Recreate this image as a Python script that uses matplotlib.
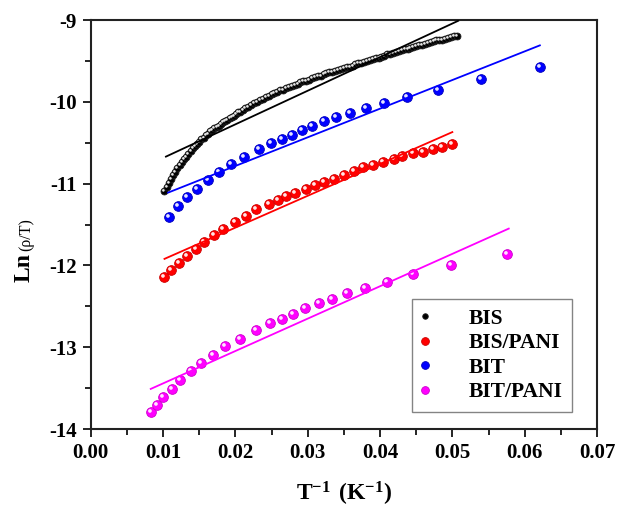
import numpy as np
import matplotlib.pyplot as plt
from matplotlib.markers import MarkerStyle
from matplotlib.transforms import Affine2D
from matplotlib.legend_handler import HandlerTuple

plt.rcParams['font.family'] = 'Liberation Serif'
plt.rcParams['font.weight'] = 'bold'
plt.rcParams['mathtext.fontset'] = 'custom'
plt.rcParams['mathtext.rm'] = 'Liberation Serif'
plt.rcParams['mathtext.bf'] = 'Liberation Serif:bold'

# BIS (dense measurement)
bis_x = [0.0102, 0.0105, 0.0108, 0.0111, 0.0114, 0.0117, 0.0120, 0.0123, 0.0126, 0.0129,
         0.0132, 0.0135, 0.0138, 0.0141, 0.0144, 0.0147, 0.0150, 0.0153, 0.0156, 0.0159,
         0.0162, 0.0165, 0.0168, 0.0171, 0.0174, 0.0177, 0.0180, 0.0183, 0.0186, 0.0189,
         0.0192, 0.0195, 0.0198, 0.0201, 0.0204, 0.0207, 0.0210, 0.0214, 0.0218, 0.0222,
         0.0226, 0.0230, 0.0234, 0.0238, 0.0242, 0.0246, 0.0250, 0.0254, 0.0258, 0.0262,
         0.0266, 0.0270, 0.0274, 0.0278, 0.0282, 0.0286, 0.0290, 0.0294, 0.0298, 0.0302,
         0.0306, 0.0310, 0.0314, 0.0318, 0.0322, 0.0326, 0.0330, 0.0334, 0.0338, 0.0342,
         0.0346, 0.0350, 0.0354, 0.0358, 0.0362, 0.0366, 0.0370, 0.0374, 0.0378, 0.0382,
         0.0386, 0.0390, 0.0394, 0.0398, 0.0402, 0.0406, 0.0410, 0.0414, 0.0418, 0.0422,
         0.0426, 0.0430, 0.0434, 0.0438, 0.0442, 0.0446, 0.0450, 0.0454, 0.0458, 0.0462,
         0.0466, 0.0470, 0.0474, 0.0478, 0.0482, 0.0486, 0.0490, 0.0494, 0.0498, 0.0502,
         0.0506]
bis_y = [-11.09, -11.04, -10.99, -10.94, -10.90, -10.86, -10.81, -10.77, -10.74, -10.70,
         -10.67, -10.64, -10.60, -10.57, -10.54, -10.51, -10.49, -10.46, -10.44, -10.41,
         -10.39, -10.36, -10.34, -10.32, -10.31, -10.29, -10.27, -10.25, -10.23, -10.22,
         -10.20, -10.18, -10.17, -10.15, -10.13, -10.12, -10.10, -10.08, -10.06, -10.04,
         -10.02, -10.00, -9.98, -9.96, -9.94, -9.93, -9.91, -9.89, -9.88, -9.86,
         -9.85, -9.83, -9.82, -9.81, -9.79, -9.78, -9.76, -9.75, -9.74, -9.73,
         -9.71, -9.70, -9.69, -9.68, -9.66, -9.65, -9.64, -9.63, -9.62, -9.61,
         -9.60, -9.59, -9.58, -9.57, -9.56, -9.54, -9.53, -9.52, -9.51, -9.50,
         -9.49, -9.48, -9.47, -9.46, -9.45, -9.44, -9.42, -9.41, -9.40, -9.39,
         -9.38, -9.37, -9.36, -9.35, -9.34, -9.33, -9.32, -9.31, -9.30, -9.29,
         -9.28, -9.27, -9.26, -9.25, -9.25, -9.24, -9.23, -9.22, -9.21, -9.20,
         -9.19]
bis_fit_x = [0.0104, 0.0508]
bis_fit_y = [-10.67, -9.01]

# BIS/PANI
bispani_x = [0.0102, 0.0111, 0.0122, 0.0133, 0.0145, 0.0157, 0.0170, 0.0183, 0.0199, 0.0215,
             0.0229, 0.0246, 0.0259, 0.0270, 0.0283, 0.0297, 0.0310, 0.0323, 0.0336, 0.0350,
             0.0364, 0.0377, 0.0390, 0.0404, 0.0419, 0.0431, 0.0445, 0.0459, 0.0473, 0.0486,
             0.0500]
bispani_y = [-12.14, -12.05, -11.97, -11.88, -11.80, -11.71, -11.63, -11.55, -11.47, -11.40,
             -11.31, -11.25, -11.20, -11.15, -11.11, -11.06, -11.02, -10.98, -10.94, -10.90,
             -10.85, -10.80, -10.77, -10.73, -10.70, -10.66, -10.63, -10.61, -10.58, -10.55,
             -10.51]
bispani_fit_x = [0.0102, 0.0500]
bispani_fit_y = [-11.92, -10.37]

# BIT
bit_x = [0.0108, 0.0121, 0.0133, 0.0147, 0.0162, 0.0177, 0.0194, 0.0212, 0.0233, 0.0249,
         0.0264, 0.0278, 0.0292, 0.0306, 0.0322, 0.0339, 0.0358, 0.0380, 0.0405, 0.0437,
         0.0480, 0.0540, 0.0621]
bit_y = [-11.41, -11.27, -11.16, -11.06, -10.95, -10.86, -10.76, -10.67, -10.58, -10.50,
         -10.45, -10.40, -10.35, -10.30, -10.24, -10.19, -10.14, -10.07, -10.01, -9.94,
         -9.85, -9.72, -9.58]
bit_fit_x = [0.0107, 0.0621]
bit_fit_y = [-11.11, -9.31]

# BIT/PANI
bitpani_x = [0.0083, 0.0092, 0.0100, 0.0112, 0.0124, 0.0138, 0.0152, 0.0169, 0.0186, 0.0206,
             0.0228, 0.0248, 0.0264, 0.0280, 0.0296, 0.0315, 0.0333, 0.0355, 0.0379, 0.0409,
             0.0446, 0.0498, 0.0575]
bitpani_y = [-13.79, -13.71, -13.61, -13.51, -13.40, -13.29, -13.19, -13.09, -12.99, -12.90,
             -12.79, -12.71, -12.65, -12.59, -12.52, -12.46, -12.41, -12.34, -12.28, -12.20,
             -12.11, -12.00, -11.86]
bitpani_fit_x = [0.0083, 0.0578]
bitpani_fit_y = [-13.51, -11.55]

fig = plt.figure(figsize=(6.2, 5.12), dpi=100)
ax = fig.add_axes([0.1463, 0.1621, 0.8166, 0.7988])

# small white spot up-left to make the markers look like shaded balls
shine = MarkerStyle('o', transform=Affine2D().scale(0.38).translate(-0.16, 0.16))


def balls(x, y, color, edge, size):
    body, = ax.plot(x, y, ls='none', marker='o', ms=size, mfc=color,
                    mec=edge, mew=0.6, zorder=3)
    spot, = ax.plot(x, y, ls='none', marker=shine, ms=size, mfc='white',
                    mec='none', alpha=0.9, zorder=4)
    return (body, spot)


h_bis = balls(bis_x, bis_y, 'black', '#222222', 5.0)
h_bispani = balls(bispani_x, bispani_y, '#ff0000', '#cc0000', 7.0)
h_bit = balls(bit_x, bit_y, '#0000ff', '#0000bb', 7.0)
h_bitpani = balls(bitpani_x, bitpani_y, '#ff00ff', '#cc00cc', 7.0)

ax.plot(bis_fit_x, bis_fit_y, color='black', lw=1.3, zorder=5)
ax.plot(bispani_fit_x, bispani_fit_y, color='#ff0000', lw=1.3, zorder=5)
ax.plot(bit_fit_x, bit_fit_y, color='#0000ff', lw=1.3, zorder=5)
ax.plot(bitpani_fit_x, bitpani_fit_y, color='#ff00ff', lw=1.3, zorder=5)

ax.set_xlim(0, 0.07)
ax.set_ylim(-14, -9)
ax.set_xticks(np.arange(0, 0.0701, 0.01))
ax.set_xticklabels(['%.2f' % v for v in np.arange(0, 0.0701, 0.01)])
ax.set_xticks(np.arange(0.005, 0.07, 0.01), minor=True)
ax.set_yticks(np.arange(-14, -8.9, 1))
ax.set_yticklabels(['%d' % v for v in np.arange(-14, -8.9, 1)])
ax.set_yticks(np.arange(-13.5, -9, 1), minor=True)
ax.tick_params(which='major', direction='out', length=6, width=1.2,
               labelsize=15, pad=4, top=False, right=False)
ax.tick_params(which='minor', direction='out', length=4, width=1.2,
               top=False, right=False)
for sp in ax.spines.values():
    sp.set_linewidth(1.5)
    sp.set_color('#222222')

ax.set_xlabel(r'$\mathbf{T^{-1}\ (K^{-1})}$', fontsize=17, labelpad=12)
fig.text(0.039, 0.450, 'Ln', rotation=90, ha='center', va='bottom',
         fontsize=17, fontweight='bold')
fig.text(0.042, 0.510, '(ρ/T)', rotation=90, ha='center', va='bottom',
         fontsize=11.5, fontweight='normal')

leg = ax.legend([h_bis, h_bispani, h_bit, h_bitpani],
                ['BIS', 'BIS/PANI', 'BIT', 'BIT/PANI'],
                handler_map={tuple: HandlerTuple(ndivide=None)},
                loc='lower right', bbox_to_anchor=(0.951, 0.042),
                fancybox=False, edgecolor='#666666', fontsize=15.5,
                handlelength=1.2, handletextpad=1.0, labelspacing=0.2,
                borderpad=0.45, borderaxespad=0, markerscale=0.8)
leg.get_frame().set_linewidth(1.0)

fig.savefig('out.png', dpi=100)
